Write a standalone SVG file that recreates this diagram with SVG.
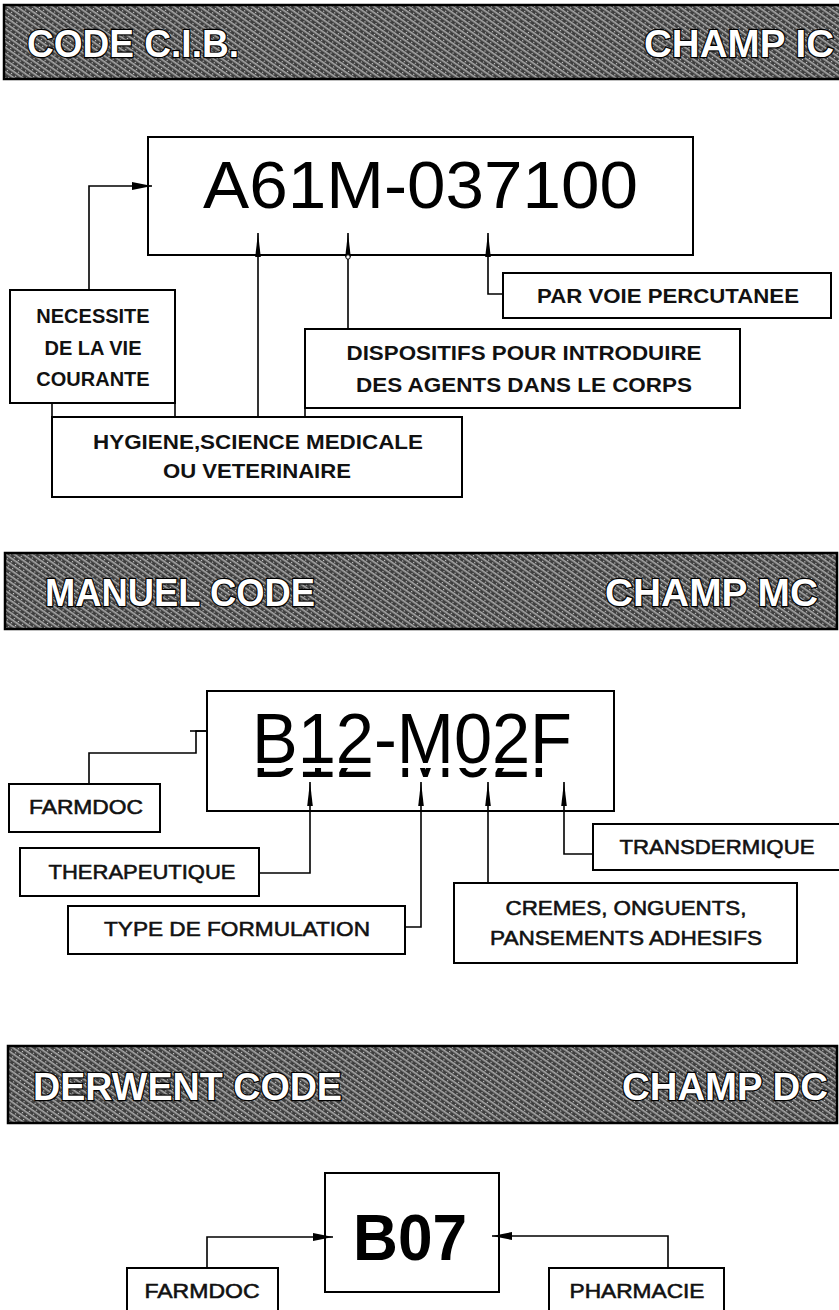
<svg xmlns="http://www.w3.org/2000/svg" width="839" height="1310" viewBox="0 0 839 1310">
<defs>
<pattern id="grain" width="5" height="5" patternUnits="userSpaceOnUse" patternTransform="rotate(35)">
<rect width="5" height="5" fill="#3e3e3e"/>
<rect width="5" height="1.6" fill="#a8a8a8"/>
<rect x="1" y="3" width="1.2" height="1.2" fill="#cfcfcf"/>
</pattern>
<marker id="up" markerUnits="userSpaceOnUse" markerWidth="26" markerHeight="8" refX="24" refY="4" orient="auto">
<path d="M0,1.2 L24,4 L0,6.8 z" fill="#000"/>
</marker>
<marker id="head" markerUnits="userSpaceOnUse" markerWidth="22" markerHeight="10" refX="20" refY="5" orient="auto">
<path d="M0,1 L20,5 L0,9 z" fill="#000"/>
</marker>
<clipPath id="ghostClip"><rect x="207" y="768" width="406" height="11"/></clipPath>
<style>
.banner{fill:url(#grain);stroke:#000;stroke-width:2.5}
.btxt{font-family:"Liberation Sans",Arial,sans-serif;font-weight:bold;font-size:38px;fill:#fff;stroke:#000;stroke-width:2.4;paint-order:stroke}
.box{fill:#fff;stroke:#000;stroke-width:2}
.code{font-family:"Liberation Sans",Arial,sans-serif;fill:#000}
.lb{font-family:"Liberation Sans",Arial,sans-serif;font-weight:bold;font-size:20px;fill:#111;text-anchor:middle}
.lm{font-family:"Liberation Sans",Arial,sans-serif;font-size:20px;fill:#111;stroke:#111;stroke-width:0.55;text-anchor:middle}
.cn{fill:none;stroke:#000;stroke-width:1.6}
</style>
</defs>
<rect width="839" height="1310" fill="#fff"/>

<!-- Banners -->
<g id="banner-cib">
<rect class="banner" x="4" y="5" width="840" height="74"/>
<text class="btxt" x="27" y="57" textLength="212" lengthAdjust="spacingAndGlyphs">CODE C.I.B.</text>
<text class="btxt" x="644" y="57" textLength="190" lengthAdjust="spacingAndGlyphs">CHAMP IC</text>
</g>
<g id="banner-mc">
<rect class="banner" x="5" y="553" width="832" height="76"/>
<text class="btxt" x="45" y="606" textLength="270" lengthAdjust="spacingAndGlyphs">MANUEL CODE</text>
<text class="btxt" x="605" y="606" textLength="213" lengthAdjust="spacingAndGlyphs">CHAMP MC</text>
</g>
<g id="banner-dc">
<rect class="banner" x="8" y="1046" width="829" height="77"/>
<text class="btxt" x="33" y="1100" textLength="309" lengthAdjust="spacingAndGlyphs">DERWENT CODE</text>
<text class="btxt" x="622" y="1100" textLength="206" lengthAdjust="spacingAndGlyphs">CHAMP DC</text>
</g>

<!-- Section 1 nodes -->
<g id="node-a61m">
<rect class="box" x="148" y="137" width="545" height="118" stroke-width="2.5"/>
<text class="code" x="203" y="208" font-size="66" textLength="435" lengthAdjust="spacingAndGlyphs">A61M-037100</text>
</g>
<g id="node-necessite">
<rect class="box" x="10" y="290" width="165" height="113"/>
<text class="lb" x="93" y="323" font-size="21">NECESSITE</text>
<text class="lb" x="93" y="355" font-size="21">DE LA VIE</text>
<text class="lb" x="93" y="386" font-size="21">COURANTE</text>
</g>
<g id="node-hygiene">
<rect class="box" x="52" y="417" width="410" height="80"/>
<text class="lb" x="258" y="449" textLength="330" lengthAdjust="spacingAndGlyphs">HYGIENE,SCIENCE MEDICALE</text>
<text class="lb" x="257" y="478" textLength="188" lengthAdjust="spacingAndGlyphs">OU VETERINAIRE</text>
</g>
<g id="node-dispositifs">
<rect class="box" x="305" y="329" width="435" height="79"/>
<text class="lb" x="524" y="360" textLength="355" lengthAdjust="spacingAndGlyphs">DISPOSITIFS POUR INTRODUIRE</text>
<text class="lb" x="524" y="392" textLength="336" lengthAdjust="spacingAndGlyphs">DES AGENTS DANS LE CORPS</text>
</g>
<g id="node-percutanee">
<rect class="box" x="503" y="273" width="328" height="45"/>
<text class="lb" x="668" y="303" textLength="262" lengthAdjust="spacingAndGlyphs">PAR VOIE PERCUTANEE</text>
</g>

<!-- Section 2 nodes -->
<g id="node-b12">
<rect class="box" x="207" y="691" width="407" height="120" stroke-width="2.5"/>
<text id="b12txt" class="code" x="252" y="763" font-size="71" textLength="320" lengthAdjust="spacingAndGlyphs">B12-M02F</text>
<g clip-path="url(#ghostClip)"><use href="#b12txt" transform="translate(0,14)"/></g>
</g>
<g id="node-farmdoc1">
<rect class="box" x="9" y="784" width="151" height="48"/>
<text class="lm" x="86" y="814" textLength="114" lengthAdjust="spacingAndGlyphs">FARMDOC</text>
</g>
<g id="node-therapeutique">
<rect class="box" x="20" y="848" width="239" height="48"/>
<text class="lm" x="142" y="879" textLength="187" lengthAdjust="spacingAndGlyphs">THERAPEUTIQUE</text>
</g>
<g id="node-type">
<rect class="box" x="68" y="906" width="337" height="48"/>
<text class="lm" x="237" y="936" textLength="266" lengthAdjust="spacingAndGlyphs">TYPE DE FORMULATION</text>
</g>
<g id="node-cremes">
<rect class="box" x="454" y="883" width="343" height="80"/>
<text class="lm" x="626" y="915" textLength="241" lengthAdjust="spacingAndGlyphs">CREMES, ONGUENTS,</text>
<text class="lm" x="626" y="945" textLength="272" lengthAdjust="spacingAndGlyphs">PANSEMENTS ADHESIFS</text>
</g>
<g id="node-transdermique">
<rect class="box" x="593" y="824" width="250" height="46"/>
<text class="lm" x="717" y="854" textLength="195" lengthAdjust="spacingAndGlyphs">TRANSDERMIQUE</text>
</g>

<!-- Section 3 nodes -->
<g id="node-b07">
<rect class="box" x="325" y="1173" width="174" height="119" stroke-width="2.5"/>
<text class="code" x="353" y="1260" font-size="64" font-weight="bold" textLength="114" lengthAdjust="spacingAndGlyphs">B07</text>
</g>
<g id="node-farmdoc2">
<rect class="box" x="127" y="1268" width="151" height="60"/>
<text class="lm" x="202" y="1298" textLength="115" lengthAdjust="spacingAndGlyphs">FARMDOC</text>
</g>
<g id="node-pharmacie">
<rect class="box" x="549" y="1268" width="175" height="60"/>
<text class="lm" x="637" y="1298" textLength="135" lengthAdjust="spacingAndGlyphs">PHARMACIE</text>
</g>

<!-- Connectors -->
<g id="connectors">
<path class="cn" d="M89,290 V186 H152" marker-end="url(#head)"/>
<path class="cn" d="M52,403 V417 M175,403 V417 M305,408 V417"/>
<path class="cn" d="M258,417 V233" marker-end="url(#up)"/>
<path class="cn" d="M348,329 V233" marker-end="url(#up)"/>
<circle cx="348" cy="257" r="2.2" fill="#fff" stroke="#000" stroke-width="1"/>
<path class="cn" d="M503,294 H488 V233" marker-end="url(#up)"/>

<path class="cn" d="M89,784 V753 H196 V731 H207"/>
<path class="cn" stroke-width="2.5" d="M190,731 H208"/>
<path class="cn" d="M259,873 H310 V782" marker-end="url(#up)"/>
<path class="cn" d="M405,927 H421 V782" marker-end="url(#up)"/>
<path class="cn" d="M488,883 V782" marker-end="url(#up)"/>
<path class="cn" d="M593,854 H564 V782" marker-end="url(#up)"/>

<path class="cn" d="M207,1268 V1237 H333" marker-end="url(#head)"/>
<path class="cn" d="M668,1268 V1236 H492" marker-end="url(#head)"/>
</g>
</svg>
